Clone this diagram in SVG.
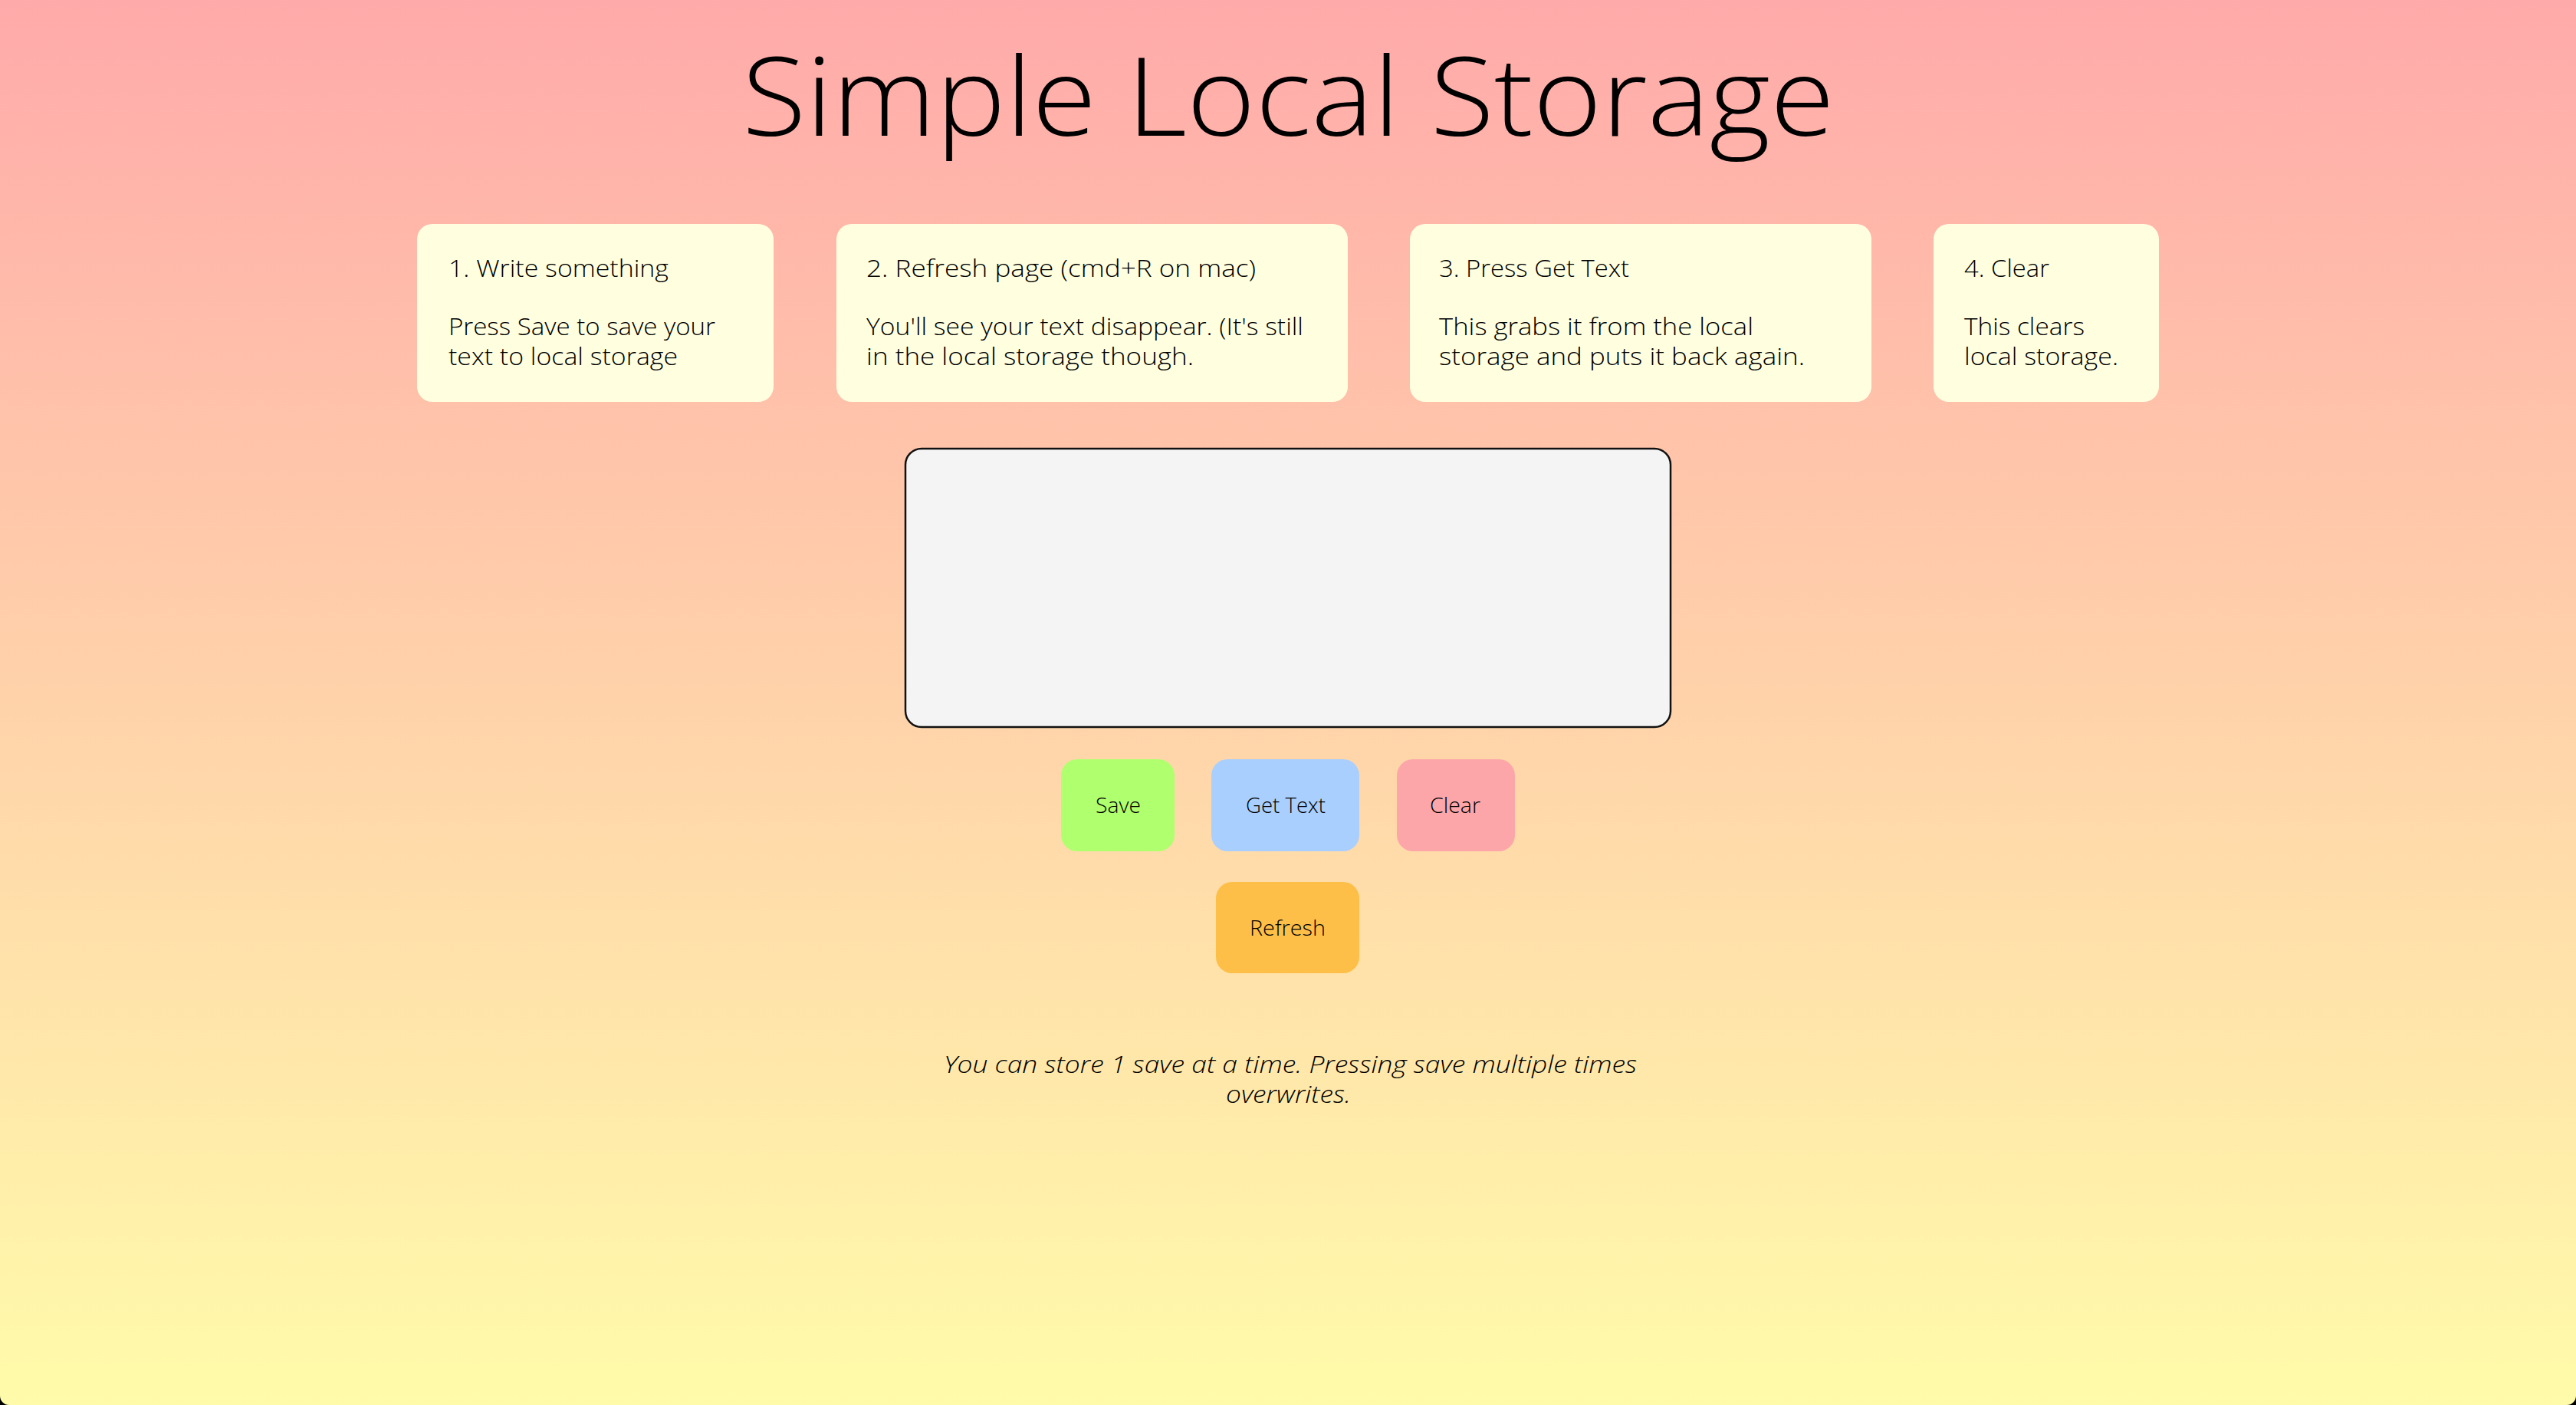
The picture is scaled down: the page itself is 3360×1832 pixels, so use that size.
<svg xmlns="http://www.w3.org/2000/svg" width="3360" height="1832" viewBox="0 0 3360 1832">
<defs>
<linearGradient id="bg" x1="0" y1="0" x2="0" y2="1">
<stop offset="0" stop-color="#ffaaaa"/>
<stop offset="1" stop-color="#fffbaa"/>
</linearGradient>
</defs>
<style>
.t{font-family:"Open Sans","Liberation Sans",sans-serif;font-weight:300;fill:#000}
.card{fill:#ffffe0}
.ct{font-size:31px}
.bt{font-size:28px}
</style>
<rect x="0" y="0" width="3360" height="1832" fill="url(#bg)"/>
<path d="M0,1820 A12,12 0 0 0 12,1832 L0,1832 Z" fill="#000"/>
<path d="M3360,1820 A12,12 0 0 1 3348,1832 L3360,1832 Z" fill="#000"/>

<g id="title">
<text class="t" x="968" y="177" font-size="143" textLength="1425" lengthAdjust="spacingAndGlyphs">Simple Local Storage</text>
</g>

<g id="card1">
<rect class="card" x="544" y="292" width="465" height="232" rx="20"/>
<text class="t ct" x="585" y="361" textLength="287" lengthAdjust="spacingAndGlyphs">1. Write something</text>
<text class="t ct" x="585" y="437" textLength="348" lengthAdjust="spacingAndGlyphs">Press Save to save your</text>
<text class="t ct" x="585" y="476" textLength="299" lengthAdjust="spacingAndGlyphs">text to local storage</text>
</g>

<g id="card2">
<rect class="card" x="1091" y="292" width="667" height="232" rx="20"/>
<text class="t ct" x="1130" y="361" textLength="508" lengthAdjust="spacingAndGlyphs">2. Refresh page (cmd+R on mac)</text>
<text class="t ct" x="1130" y="437" textLength="570" lengthAdjust="spacingAndGlyphs">You'll see your text disappear. (It's still</text>
<text class="t ct" x="1130" y="476" textLength="427" lengthAdjust="spacingAndGlyphs">in the local storage though.</text>
</g>

<g id="card3">
<rect class="card" x="1839" y="292" width="602" height="232" rx="20"/>
<text class="t ct" x="1877" y="361" textLength="248" lengthAdjust="spacingAndGlyphs">3. Press Get Text</text>
<text class="t ct" x="1877" y="437" textLength="410" lengthAdjust="spacingAndGlyphs">This grabs it from the local</text>
<text class="t ct" x="1877" y="476" textLength="477" lengthAdjust="spacingAndGlyphs">storage and puts it back again.</text>
</g>

<g id="card4">
<rect class="card" x="2522" y="292" width="294" height="232" rx="20"/>
<text class="t ct" x="2562" y="361" textLength="111" lengthAdjust="spacingAndGlyphs">4. Clear</text>
<text class="t ct" x="2562" y="437" textLength="157" lengthAdjust="spacingAndGlyphs">This clears</text>
<text class="t ct" x="2562" y="476" textLength="201" lengthAdjust="spacingAndGlyphs">local storage.</text>
</g>

<g id="textarea">
<rect x="1181" y="585" width="998" height="363" rx="21" fill="#f4f4f4" stroke="#111" stroke-width="2.5"/>
</g>

<g id="btn-save">
<rect x="1384" y="990" width="148" height="120" rx="21" fill="#b0ff6e"/>
<text class="t bt" x="1429" y="1060" textLength="59" lengthAdjust="spacingAndGlyphs">Save</text>
</g>
<g id="btn-gettext">
<rect x="1580" y="990" width="193" height="120" rx="21" fill="#a9cfff"/>
<text class="t bt" x="1625" y="1060" textLength="104" lengthAdjust="spacingAndGlyphs">Get Text</text>
</g>
<g id="btn-clear">
<rect x="1822" y="990" width="154" height="120" rx="21" fill="#fca6a9"/>
<text class="t bt" x="1865" y="1060" textLength="66" lengthAdjust="spacingAndGlyphs">Clear</text>
</g>
<g id="btn-refresh">
<rect x="1586" y="1150" width="187" height="119" rx="21" fill="#fdbf48"/>
<text class="t bt" x="1630" y="1220" textLength="99" lengthAdjust="spacingAndGlyphs">Refresh</text>
</g>

<g id="note">
<text class="t" x="1231" y="1399" font-size="31" font-style="italic" textLength="904" lengthAdjust="spacingAndGlyphs">You can store 1 save at a time. Pressing save multiple times</text>
<text class="t" x="1599" y="1438" font-size="31" font-style="italic" textLength="163" lengthAdjust="spacingAndGlyphs">overwrites.</text>
</g>
<g id="connectors"/>
</svg>
